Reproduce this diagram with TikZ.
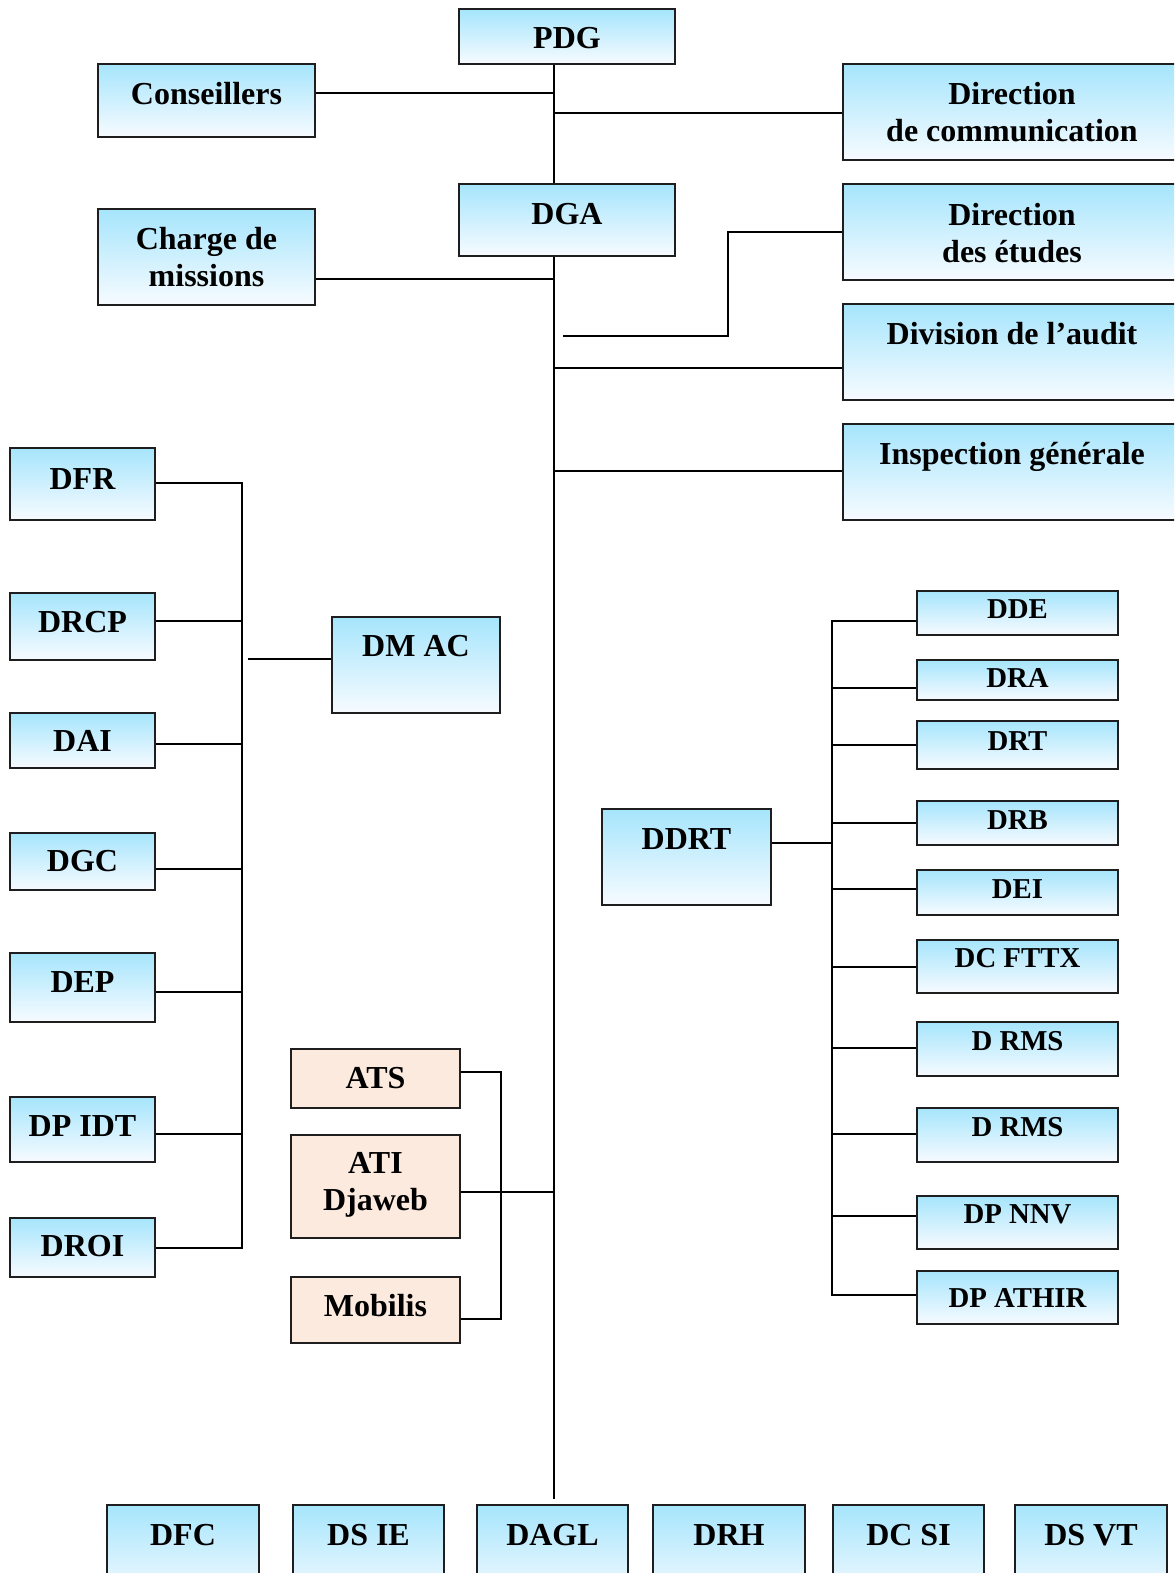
\documentclass[tikz,border=0pt]{standalone}
\usepackage{fontspec}
\setmainfont{Liberation Serif}
\definecolor{celltop}{RGB}{166,229,252}
\definecolor{cellbot}{RGB}{247,251,255}
\definecolor{subsid}{RGB}{253,234,222}
\definecolor{edge}{RGB}{30,30,30}
\newcommand{\bigfont}{\fontsize{24}{28}\selectfont\bfseries}
\newcommand{\smallfont}{\fontsize{21.6}{26}\selectfont\bfseries}
% box of the chart given by its corners (x1,y1) (x2,y2), in pixel units
\newcommand{\unitbox}[6][]{%
  \node[unit,#1,anchor=north west,
        minimum width={(#5-#3)*0.75pt},minimum height={(#6-#4)*0.75pt}] (#2) at (#3,#4) {};}
\tikzset{
  unit/.style={rectangle,inner sep=0pt,draw=edge,line width=1.5pt,
               top color=celltop,bottom color=cellbot},
  firm/.style={fill=subsid,top color=subsid,bottom color=subsid},
  lbl/.style={font=\bigfont,inner sep=0pt,anchor=base},
  mlbl/.style={font=\bigfont,inner sep=0pt,anchor=center,align=center},
  slbl/.style={font=\smallfont,inner sep=0pt,anchor=base},
  conn/.style={draw=black,line width=1.5pt,line join=miter}
}
\begin{document}
\begin{tikzpicture}[x=0.75pt,y=-0.75pt]
\useasboundingbox (0,0) rectangle (1174,1573);
\clip (0,0) rectangle (1174,1573);

% ---------- top management ----------
\unitbox{pdg}{458}{8}{674}{63}
\node[lbl] (pdg-t) at (pdg.center |- 0,48.5) {PDG};
\unitbox{dga}{458}{183}{674}{255}
\node[lbl] (dga-t) at (dga.center |- 0,224.5) {DGA};
\unitbox{cons}{97}{63}{314}{136}
\node[lbl] (cons-t) at (cons.center |- 0,104.5) {Conseillers};
\unitbox{charge}{97}{208}{314}{304}
\node[mlbl] (charge-t) at (charge.center |- 0,257) {Charge de\\missions};

% ---------- staff on the right ----------
\unitbox{dcom}{842}{63}{1180}{159}
\node[mlbl] (dcom-t) at (dcom.center |- 0,112) {Direction\\de communication};
\unitbox{detu}{842}{183}{1180}{279}
\node[mlbl] (detu-t) at (detu.center |- 0,233) {Direction\\des études};
\unitbox{daud}{842}{303}{1180}{399}
\node[lbl] (daud-t) at (daud.center |- 0,344.5) {Division de l’audit};
\unitbox{insp}{842}{423}{1180}{519}
\node[lbl] (insp-t) at (insp.center |- 0,464.5) {Inspection générale};

% ---------- left column ----------
\unitbox{dfr}{9}{447}{154}{519}
\node[lbl] (dfr-t) at (dfr.center |- 0,489.5) {DFR};
\unitbox{drcp}{9}{592}{154}{659}
\node[lbl] (drcp-t) at (drcp.center |- 0,632.5) {DRCP};
\unitbox{dai}{9}{712}{154}{767}
\node[lbl] (dai-t) at (dai.center |- 0,751.5) {DAI};
\unitbox{dgc}{9}{832}{154}{889}
\node[lbl] (dgc-t) at (dgc.center |- 0,871.5) {DGC};
\unitbox{dep}{9}{952}{154}{1021}
\node[lbl] (dep-t) at (dep.center |- 0,992.5) {DEP};
\unitbox{dpidt}{9}{1096}{154}{1161}
\node[lbl] (dpidt-t) at (dpidt.center |- 0,1136.5) {DP IDT};
\unitbox{droi}{9}{1217}{154}{1276}
\node[lbl] (droi-t) at (droi.center |- 0,1256.5) {DROI};
\unitbox{dmac}{331}{616}{499}{712}
\node[lbl] (dmac-t) at (dmac.center |- 0,656.5) {DM AC};

% ---------- DDRT and its directorates ----------
\unitbox{ddrt}{601}{808}{770}{904}
\node[lbl] (ddrt-t) at (ddrt.center |- 0,849.5) {DDRT};
\unitbox{dde}{916}{590}{1117}{634}
\node[slbl] (dde-t) at (dde.center |- 0,618.5) {DDE};
\unitbox{dra}{916}{659}{1117}{699}
\node[slbl] (dra-t) at (dra.center |- 0,687.5) {DRA};
\unitbox{drt}{916}{720}{1117}{768}
\node[slbl] (drt-t) at (drt.center |- 0,750.5) {DRT};
\unitbox{drb}{916}{800}{1117}{844}
\node[slbl] (drb-t) at (drb.center |- 0,829.5) {DRB};
\unitbox{dei}{916}{869}{1117}{914}
\node[slbl] (dei-t) at (dei.center |- 0,898.5) {DEI};
\unitbox{dcfttx}{916}{939}{1117}{992}
\node[slbl] (dcfttx-t) at (dcfttx.center |- 0,967.5) {DC FTTX};
\unitbox{drmsa}{916}{1021}{1117}{1075}
\node[slbl] (drmsa-t) at (drmsa.center |- 0,1050.5) {D RMS};
\unitbox{drmsb}{916}{1107}{1117}{1161}
\node[slbl] (drmsb-t) at (drmsb.center |- 0,1136.5) {D RMS};
\unitbox{dpnnv}{916}{1195}{1117}{1248}
\node[slbl] (dpnnv-t) at (dpnnv.center |- 0,1223.5) {DP NNV};
\unitbox{dpathir}{916}{1270}{1117}{1323}
\node[slbl] (dpathir-t) at (dpathir.center |- 0,1307.5) {DP ATHIR};

% ---------- subsidiaries ----------
\unitbox[firm]{ats}{290}{1048}{459}{1107}
\node[lbl] (ats-t) at (ats.center |- 0,1088.5) {ATS};
\unitbox[firm]{ati}{290}{1134}{459}{1237}
\node[mlbl] (ati-t) at (ati.center |- 0,1185) {ATI\\Djaweb};
\unitbox[firm]{mob}{290}{1276}{459}{1342}
\node[lbl] (mob-t) at (mob.center |- 0,1316.5) {Mobilis};

% ---------- bottom row ----------
\unitbox{dfc}{106}{1504}{258}{1600}
\node[lbl] (dfc-t) at (dfc.center |- 0,1545.5) {DFC};
\unitbox{dsie}{292}{1504}{443}{1600}
\node[lbl] (dsie-t) at (dsie.center |- 0,1545.5) {DS IE};
\unitbox{dagl}{476}{1504}{627}{1600}
\node[lbl] (dagl-t) at (dagl.center |- 0,1545.5) {DAGL};
\unitbox{drh}{652}{1504}{804}{1600}
\node[lbl] (drh-t) at (drh.center |- 0,1545.5) {DRH};
\unitbox{dcsi}{832}{1504}{983}{1600}
\node[lbl] (dcsi-t) at (dcsi.center |- 0,1545.5) {DC SI};
\unitbox{dsvt}{1014}{1504}{1166}{1600}
\node[lbl] (dsvt-t) at (dsvt.center |- 0,1545.5) {DS VT};

% ---------- main trunk ----------
\coordinate (tA) at (554,93);
\coordinate (tB) at (554,113);
\coordinate (tC) at (554,279);
\coordinate (tD) at (554,368);
\coordinate (tE) at (554,471);
\coordinate (tF) at (554,1192);
\coordinate (tEnd) at (554,1499);
\draw[conn] (pdg.south -| tA) -- (dga.north -| tA);
\draw[conn] (dga.south -| tA) -- (tEnd);
\draw[conn] (cons.east |- tA) -- (tA);
\draw[conn] (tB) -- (dcom.west |- tB);
\draw[conn] (charge.east |- tC) -- (tC);
\draw[conn] (tD) -- (daud.west |- tD);
\draw[conn] (tE) -- (insp.west |- tE);
\coordinate (etuFree) at (563,336);
\coordinate (etuBend) at (728,232);
\draw[conn] (etuFree) -| (etuBend) -- (detu.west |- etuBend);

% ---------- left column spine ----------
\coordinate (lTop) at (242,483);
\coordinate (lBot) at (242,1248);
\draw[conn] (dfr.east |- lTop) -- (lTop) -- (lBot) -- (droi.east |- lBot);
\foreach \n/\y in {drcp/621,dai/744,dgc/869,dep/992,dpidt/1134}
  \draw[conn] (\n.east |- 0,\y) -- (lTop |- 0,\y);
\coordinate (dmacFree) at (248,659);
\draw[conn] (dmacFree) -- (dmac.west |- dmacFree);

% ---------- DDRT spine ----------
\coordinate (rTop) at (832,621);
\coordinate (rBot) at (832,1295);
\coordinate (rMid) at (832,843);
\draw[conn] (dde.west |- rTop) -- (rTop) -- (rBot) -- (dpathir.west |- rBot);
\draw[conn] (ddrt.east |- rMid) -- (rMid);
\foreach \n/\y in {dra/688,drt/745,drb/823,dei/889,dcfttx/967,drmsa/1048,drmsb/1134,dpnnv/1216}
  \draw[conn] (rTop |- 0,\y) -- (\n.west |- 0,\y);

% ---------- subsidiaries bracket ----------
\coordinate (sTop) at (501,1072);
\coordinate (sBot) at (501,1319);
\draw[conn] (ats.east |- sTop) -- (sTop) -- (sBot) -- (mob.east |- sBot);
\draw[conn] (ati.east |- tF) -- (tF);
\end{tikzpicture}
\end{document}
